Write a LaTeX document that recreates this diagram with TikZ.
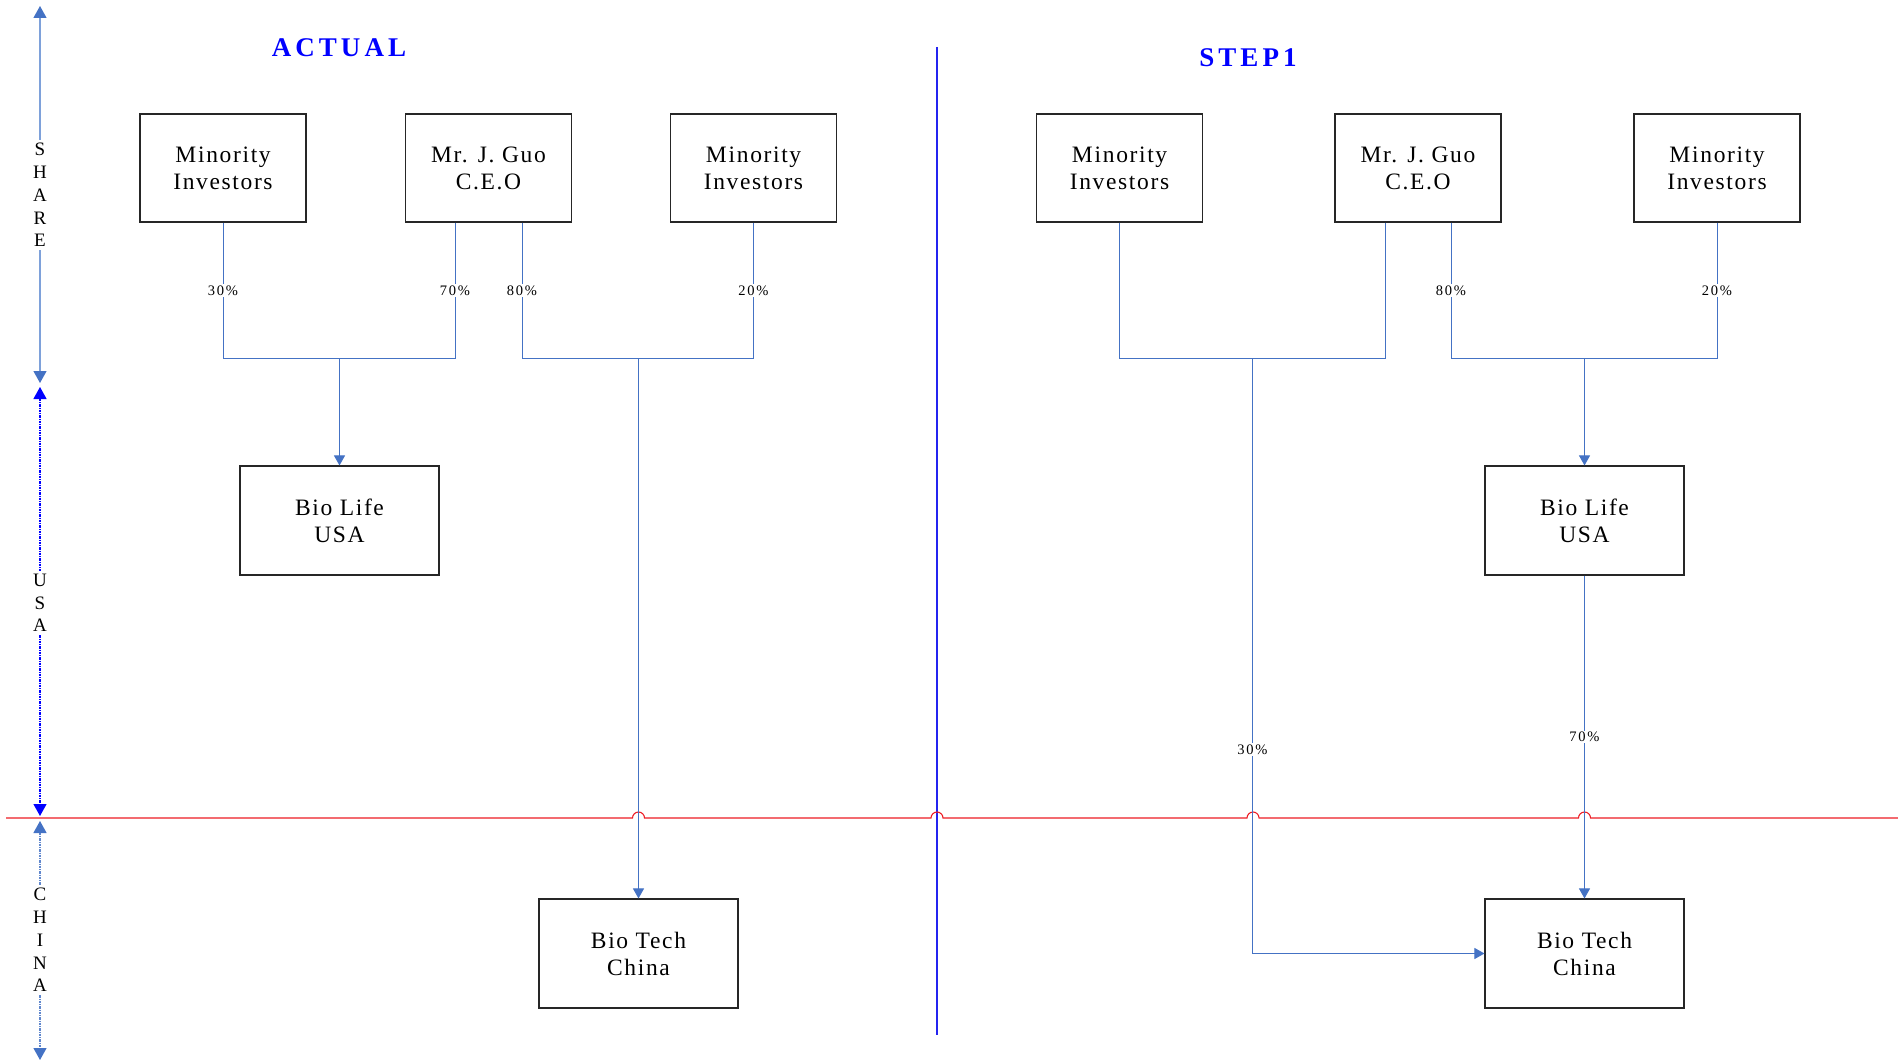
\documentclass[tikz,border=0pt]{standalone}
\usepackage{fontspec}
\setmainfont{Liberation Serif}
\usetikzlibrary{arrows.meta}
\definecolor{conn}{HTML}{4472C4}
\definecolor{axlight}{HTML}{7EA1DA}
\definecolor{redl}{HTML}{ED1C24}
\definecolor{divblue}{HTML}{2424F0}
\definecolor{ttlblue}{HTML}{0000FF}
\tikzset{
  axtipA/.tip={Triangle[length=12pt,width=13pt,color=conn]},
  axtipB/.tip={Triangle[length=12pt,width=13pt,color=ttlblue]}
}
\begin{document}
\begin{tikzpicture}[x=1pt,y=-1pt,
  box/.style={draw=black!85, line width=1.1pt, minimum width=166pt, minimum height=108pt,
    inner sep=0pt, align=center, font=\fontsize{23.5}{27}\selectfont\addfontfeature{LetterSpace=7}},
  widebox/.style={box, minimum width=199pt, minimum height=109pt},
  link/.style={draw=conn, line width=1pt},
  arrowend/.style={-{Triangle[length=10pt,width=11pt]}},
  pct/.style={fill=white, inner sep=1.5pt, font=\fontsize{14.5}{16}\selectfont\addfontfeature{LetterSpace=12}},
  ttl/.style={text=ttlblue, font=\fontsize{27}{30}\selectfont\bfseries\addfontfeature{LetterSpace=15}},
  axlbl/.style={align=center, inner sep=3pt, font=\fontsize{19}{22.75}\selectfont}
]
\useasboundingbox (0,0) rectangle (1898,1062);

% titles
\node[ttl] (t1) at (339,48) {ACTUAL};
\node[ttl] (t2) at (1248,58) {STEP1};

% divider
\coordinate (dTop) at (937,47);
\coordinate (dBot) at (937,1035);
\draw[divblue, line width=1.2pt] (dTop) -- (dBot);

% border line with jumps
\draw[redl, line width=1.1pt] (6,818) -- (632.5,818) arc[start angle=180,end angle=0,radius=6pt]
  -- (931,818) arc[start angle=180,end angle=0,radius=6pt]
  -- (1247,818) arc[start angle=180,end angle=0,radius=6pt]
  -- (1578.5,818) arc[start angle=180,end angle=0,radius=6pt]
  -- (1898,818);

% left axis
\coordinate (sTop) at (40,6);
\coordinate (sBot) at (40,383);
\node[axlbl] (shareL) at (40,195) {S\\H\\A\\R\\E};
\draw[axlight, line width=1.2pt, {axtipA}-] (sTop) -- (shareL);
\draw[axlight, line width=1.2pt, -{axtipA}] (shareL) -- (sBot);

\coordinate (uTop) at (40,387);
\coordinate (uBot) at (40,816);
\node[axlbl] (usaL) at (40,603) {U\\S\\A};
\draw[ttlblue, line width=1.2pt, dash pattern=on 2.5pt off 1pt on 1pt off 1pt, {axtipB}-] (uTop) -- (usaL);
\draw[ttlblue, line width=1.2pt, dash pattern=on 2.5pt off 1pt on 1pt off 1pt, -{axtipB}] (usaL) -- (uBot);

\coordinate (cTop) at (40,821);
\coordinate (cBot) at (40,1060);
\node[axlbl] (chinaL) at (40,940) {C\\H\\I\\N\\A};
\draw[conn!85!white, line width=1.2pt, dash pattern=on 2.5pt off 1pt on 1pt off 1pt, {axtipA}-] (cTop) -- (chinaL);
\draw[conn!85!white, line width=1.2pt, dash pattern=on 2.5pt off 1pt on 1pt off 1pt, -{axtipA}] (chinaL) -- (cBot);

% left (ACTUAL) boxes
\node[box] (mi1) at (223,168) {M\kern2pt inority\\Investors};
\node[box] (guo1) at (488.5,168) {Mr. J. Guo\\C.E.O};
\node[box] (mi2) at (753.5,168) {M\kern2pt inority\\Investors};
\node[widebox] (bl1) at (339.5,520.5) {Bio Life\\USA};
\node[widebox] (bt1) at (638.5,953.5) {Bio Tech\\China};

% right (STEP1) boxes
\node[box] (mi3) at (1119.5,168) {M\kern2pt inority\\Investors};
\node[box] (guo2) at (1418,168) {Mr. J. Guo\\C.E.O};
\node[box] (mi4) at (1717,168) {M\kern2pt inority\\Investors};
\node[widebox] (bl2) at (1584.5,520.5) {Bio Life\\USA};
\node[widebox] (bt2) at (1584.5,953.5) {Bio Tech\\China};

% junctions
\coordinate (j1) at (339.5,358);
\coordinate (j2) at (638.5,358);
\coordinate (j3) at (1252.5,358);
\coordinate (j4) at (1584.5,358);
\coordinate (g1a) at ([xshift=-33.5pt]guo1.south);
\coordinate (g1b) at ([xshift=33.5pt]guo1.south);
\coordinate (g2a) at ([xshift=-33pt]guo2.south);
\coordinate (g2b) at ([xshift=33pt]guo2.south);

% left connectors
\draw[link] (mi1.south) -- node[pct]{30\%} (mi1.south |- j1) -- (j1);
\draw[link] (g1a) -- node[pct]{70\%} (g1a |- j1) -- (j1);
\draw[link, arrowend] (j1) -- (bl1.north);
\draw[link] (g1b) -- node[pct]{80\%} (g1b |- j2) -- (j2);
\draw[link] (mi2.south) -- node[pct]{20\%} (mi2.south |- j2) -- (j2);
\draw[link, arrowend] (j2) -- (bt1.north);

% right connectors
\draw[link] (mi3.south) -- (mi3.south |- j3) -- (j3);
\draw[link] (g2a) -- (g2a |- j3) -- (j3);
\draw[link, arrowend] (j3) -- node[pct, pos=0.658]{30\%} (j3 |- bt2.west) -- (bt2.west);
\draw[link] (g2b) -- node[pct]{80\%} (g2b |- j4) -- (j4);
\draw[link] (mi4.south) -- node[pct]{20\%} (mi4.south |- j4) -- (j4);
\draw[link, arrowend] (j4) -- (bl2.north);
\draw[link, arrowend] (bl2.south) -- node[pct]{70\%} (bt2.north);
\end{tikzpicture}
\end{document}
